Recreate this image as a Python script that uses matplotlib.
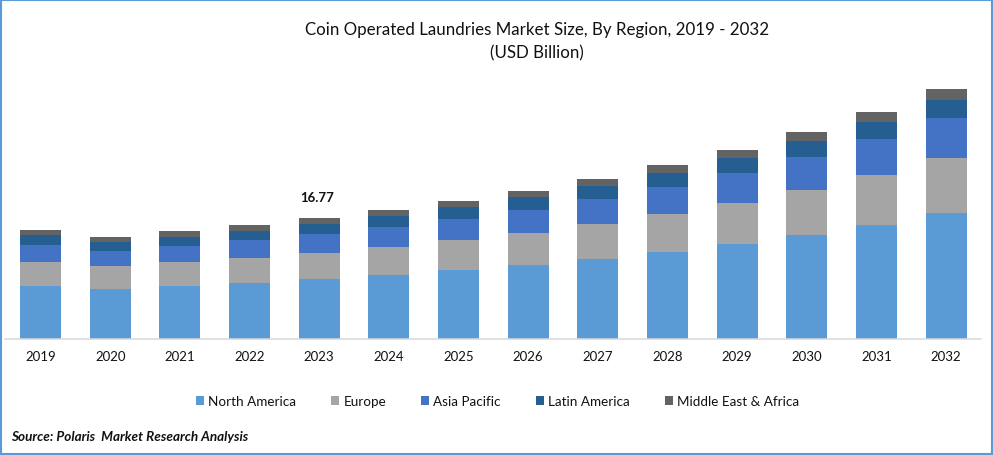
import numpy as np
import matplotlib
matplotlib.use("Agg")
import matplotlib.pyplot as plt
from matplotlib.patches import Rectangle

plt.rcParams["font.family"] = ["Lato", "DejaVu Sans"]

years = [2019, 2020, 2021, 2022, 2023, 2024, 2025, 2026, 2027, 2028, 2029, 2030, 2031, 2032]
north_america = [7.35, 6.93, 7.35, 7.76, 8.32, 8.87, 9.56, 10.26, 11.09, 12.06, 13.17, 14.41, 15.80, 17.46]
europe = [3.33, 3.19, 3.33, 3.47, 3.60, 3.88, 4.16, 4.44, 4.85, 5.27, 5.68, 6.24, 6.93, 7.62]
asia_pacific = [2.36, 2.08, 2.22, 2.49, 2.63, 2.77, 2.91, 3.19, 3.47, 3.74, 4.16, 4.57, 4.99, 5.54]
latin_america = [1.39, 1.25, 1.25, 1.25, 1.39, 1.52, 1.66, 1.80, 1.80, 1.94, 2.08, 2.22, 2.36, 2.49]
middle_east = [0.69, 0.69, 0.83, 0.83, 0.83, 0.83, 0.83, 0.83, 0.97, 1.11, 1.11, 1.25, 1.39, 1.52]

series = [
    ("North America", north_america, "#5B9BD5"),
    ("Europe", europe, "#A5A5A5"),
    ("Asia Pacific", asia_pacific, "#4472C4"),
    ("Latin America", latin_america, "#255E91"),
    ("Middle East & Africa", middle_east, "#636363"),
]

W, H = 993, 456
fig = plt.figure(figsize=(W / 100, H / 100), dpi=100)
ax = fig.add_axes([5 / W, 1 - 340 / H, 976 / W, 269 / H])

x = np.arange(len(years))
bottom = np.zeros(len(years))
for name, vals, color in series:
    ax.bar(x, vals, width=0.589, bottom=bottom, color=color, label=name)
    bottom += np.array(vals)

ax.set_xlim(-0.51, 13.50)
ax.set_ylim(0, 37.28)
ax.set_yticks([])
ax.set_xticks(x)
ax.set_xticklabels(years, fontsize=9.5, color="#111111")
ax.tick_params(axis="x", length=0, pad=8)
for side in ["top", "left", "right"]:
    ax.spines[side].set_visible(False)
ax.spines["bottom"].set_color("#D9D9D9")
ax.spines["bottom"].set_linewidth(1.1)

i2023 = years.index(2023)
ax.annotate("16.77", (i2023, bottom[i2023]), xytext=(-1.5, 11),
            textcoords="offset points", ha="center", va="bottom", fontsize=9.5,
            fontweight="bold", color="#111111")

fig.text(537 / W, 1 - 30.5 / H, "Coin Operated Laundries Market Size, By Region, 2019 - 2032",
         ha="center", va="center", fontsize=12.2, color="#111111")
fig.text(537 / W, 1 - 53 / H, "(USD Billion)", ha="center", va="center", fontsize=12.2, color="#111111")

fig.legend(loc="center", bbox_to_anchor=(497.5 / W, 1 - 402 / H), ncol=5, frameon=False,
           fontsize=9.7, handlelength=0.6, handleheight=0.6, handletextpad=0.3,
           columnspacing=2.6, labelcolor="#111111")

fig.text(11 / W, 1 - 437 / H, "Source: Polaris  Market Research Analysis", ha="left", va="center",
         fontsize=9.7, fontweight="bold", fontstyle="italic", color="#111111")

fig.add_artist(Rectangle((1 / W, 1 / H), 991 / W, 454 / H, transform=fig.transFigure,
                         fill=False, edgecolor="#5B9BD5", linewidth=1.5))

fig.savefig("out.png", dpi=100)
